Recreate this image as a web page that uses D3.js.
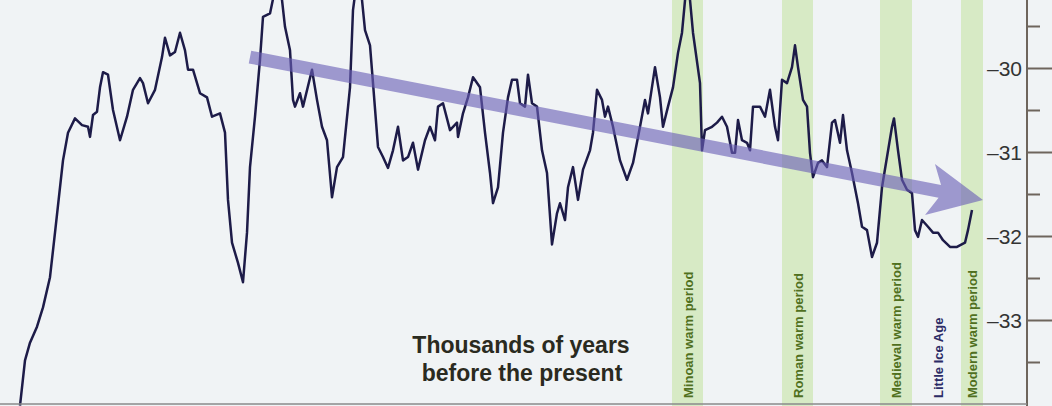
<!DOCTYPE html>
<html>
<head>
<meta charset="utf-8">
<script src="https://cdn.jsdelivr.net/npm/d3@7/dist/d3.min.js"></script>
<style>
  html, body { margin: 0; padding: 0; background: #eff2f4; }
  svg { display: block; }
</style>
</head>
<body>
<div id="chart"></div>
<script>
// thousands of years before present
var kyr = [9.75, 9.70, 9.65, 9.58, 9.52, 9.45, 9.40, 9.35, 9.32, 9.27, 9.20, 9.13, 9.07, 9.05, 9.02, 8.98,
    8.95, 8.92, 8.87, 8.82, 8.75, 8.68, 8.62, 8.55, 8.52, 8.47, 8.40, 8.33, 8.30, 8.25, 8.20, 8.15,
    8.10, 8.07, 8.02, 7.95, 7.88, 7.83, 7.75, 7.70, 7.67, 7.63, 7.57, 7.52, 7.48, 7.45, 7.40, 7.35,
    7.32, 7.25, 7.19, 7.13, 7.10, 7.05, 7.02, 7.00, 6.95, 6.92, 6.83, 6.78, 6.73, 6.68, 6.63, 6.58,
    6.52, 6.45, 6.42, 6.38, 6.33, 6.30, 6.25, 6.22, 6.17, 6.12, 6.07, 6.02, 5.97, 5.92, 5.87, 5.82,
    5.77, 5.70, 5.65, 5.60, 5.57, 5.52, 5.45, 5.38, 5.37, 5.32, 5.27, 5.22, 5.15, 5.10, 5.05, 5.02,
    4.97, 4.92, 4.87, 4.83, 4.78, 4.75, 4.70, 4.67, 4.63, 4.58, 4.53, 4.48, 4.43, 4.38, 4.35, 4.30,
    4.27, 4.22, 4.17, 4.12, 4.05, 4.02, 3.98, 3.93, 3.90, 3.87, 3.82, 3.75, 3.68, 3.62, 3.55, 3.50,
    3.47, 3.40, 3.35, 3.32, 3.27, 3.22, 3.17, 3.13, 3.09, 3.05, 3.02, 2.95, 2.93, 2.90, 2.83, 2.78,
    2.73, 2.68, 2.63, 2.60, 2.57, 2.53, 2.48, 2.45, 2.42, 2.35, 2.30, 2.25, 2.20, 2.17, 2.13, 2.08,
    2.03, 2.00, 1.97, 1.92, 1.88, 1.85, 1.82, 1.77, 1.73, 1.68, 1.63, 1.60, 1.55, 1.52, 1.48, 1.43,
    1.37, 1.33, 1.28, 1.23, 1.18, 1.13, 1.08, 1.03, 1.01, 0.97, 0.93, 0.88, 0.83, 0.80, 0.77, 0.73,
    0.67, 0.62, 0.57, 0.52, 0.45, 0.38, 0.30, 0.27, 0.23];

// temperature (deg C)
var temp = [-34.02, -33.48, -33.27, -33.08, -32.85, -32.49, -31.96, -31.42, -31.10, -30.77, -30.60, -30.68, -30.70, -30.82, -30.56, -30.52,
    -30.23, -30.05, -30.08, -30.50, -30.86, -30.58, -30.26, -30.12, -30.18, -30.42, -30.26, -29.87, -29.64, -29.85, -29.81, -29.58,
    -29.79, -30.02, -30.02, -30.30, -30.35, -30.58, -30.54, -30.77, -31.57, -32.08, -32.32, -32.55, -31.96, -31.18, -30.58, -29.90,
    -29.39, -29.35, -29.01, -29.19, -29.51, -29.79, -30.38, -30.46, -30.30, -30.46, -30.02, -30.38, -30.70, -30.86, -31.54, -31.18,
    -31.06, -30.23, -29.31, -28.95, -29.19, -29.55, -29.73, -30.18, -30.94, -31.06, -31.19, -30.98, -30.70, -31.10, -31.06, -30.89,
    -31.21, -30.86, -30.70, -30.86, -30.46, -30.42, -30.74, -30.65, -30.82, -30.54, -30.35, -30.11, -30.23, -30.77, -31.25, -31.61,
    -31.42, -30.77, -30.35, -30.14, -30.14, -30.42, -30.46, -30.08, -30.42, -30.46, -30.98, -31.25, -32.10, -31.73, -31.61, -31.81,
    -31.42, -31.18, -31.57, -31.21, -30.98, -30.77, -30.26, -30.38, -30.58, -30.46, -30.70, -31.10, -31.33, -31.13, -30.70, -30.38,
    -30.54, -29.99, -30.35, -30.70, -30.46, -30.23, -29.82, -29.58, -29.07, -29.19, -29.58, -30.18, -30.98, -30.74, -30.70, -30.65,
    -30.58, -30.70, -31.01, -31.01, -30.62, -30.86, -30.89, -30.98, -30.46, -30.46, -30.58, -30.26, -30.70, -30.86, -30.14, -30.18,
    -29.99, -29.73, -29.99, -30.38, -30.46, -31.01, -31.30, -31.13, -31.10, -31.18, -30.65, -30.62, -30.89, -30.56, -30.98, -31.25,
    -31.61, -31.89, -31.93, -32.25, -32.08, -31.42, -31.06, -30.70, -30.60, -30.98, -31.33, -31.45, -31.49, -31.93, -32.01, -31.81,
    -31.89, -31.96, -31.96, -32.05, -32.13, -32.13, -32.08, -31.93, -31.69];

// warm periods (kyr BP, start / end) and labels
var periodNames = ["Minoan warm period", "Roman warm period", "Medieval warm period", "Modern warm period"];
var periodStart = [3.23, 2.13, 1.15, 0.34];
var periodEnd = [2.92, 1.82, 0.83, 0.12];
var coldName = "Little Ice Age";
var coldAt = 0.57;

var majorTicks = [-30, -31, -32, -33];
var minorTicks = [-29.5, -30.5, -31.5, -32.5, -33.5];

// trend arrow, from / to (kyr, temp)
var trendFrom = [7.45, -29.87];
var trendTo = [0.12, -31.57];

var width = 1052, height = 406;

var svg = d3.select('#chart').append('svg')
    .attr('width', width)
    .attr('height', height);

svg.append('rect')
    .attr('width', width)
    .attr('height', height)
    .attr('fill', '#f0f3f5');

var x = d3.scaleLinear().domain([9.9, 0]).range([5, 995]);
var y = d3.scaleLinear().domain([-30, -33]).range([68, 320]);

// green bands
svg.append('g').selectAll('rect')
    .data(periodNames)
    .enter()
    .append('rect')
    .attr('x', function (d, i) { return x(periodStart[i]); })
    .attr('width', function (d, i) { return x(periodEnd[i]) - x(periodStart[i]); })
    .attr('y', 0)
    .attr('height', height)
    .attr('fill', '#d7eac5');

// band labels, rotated
var labelStyle = 'font-family: "Liberation Sans Narrow", "Liberation Sans", sans-serif; font-weight: bold; font-size: 13px;';

svg.append('g').selectAll('text')
    .data(periodNames)
    .enter()
    .append('text')
    .attr('transform', function (d, i) {
        var cx = (x(periodStart[i]) + x(periodEnd[i])) / 2 + 5;
        return 'translate(' + cx + ',398) rotate(-90)';
    })
    .attr('style', labelStyle + ' fill: #50701e;')
    .text(function (d) { return d; });

svg.append('text')
    .attr('transform', 'translate(' + (x(coldAt) + 5) + ',398) rotate(-90)')
    .attr('style', labelStyle + ' fill: #2c2b66;')
    .text(coldName);

// x label
var titleStyle = 'font-family: "Liberation Sans Narrow", "Liberation Sans", sans-serif; font-weight: bold; font-size: 23px; fill: #2a2a20;';

svg.append('text')
    .attr('x', 521)
    .attr('y', 353)
    .attr('text-anchor', 'middle')
    .attr('style', titleStyle)
    .text('Thousands of years');

svg.append('text')
    .attr('x', 522)
    .attr('y', 381)
    .attr('text-anchor', 'middle')
    .attr('style', titleStyle)
    .text('before the present');

// temperature line
var line = d3.line()
    .x(function (d) { return x(d[0]); })
    .y(function (d) { return y(d[1]); });

svg.append('path')
    .datum(d3.zip(kyr, temp))
    .attr('d', line)
    .attr('fill', 'none')
    .attr('stroke', '#1d1b48')
    .attr('stroke-width', 2.5)
    .attr('stroke-linejoin', 'round');

// trend arrow
var p0 = [x(trendFrom[0]), y(trendFrom[1])],
    p1 = [x(trendTo[0]), y(trendTo[1])];
var dx = p1[0] - p0[0], dy = p1[1] - p0[1], len = Math.sqrt(dx * dx + dy * dy);
var u = [dx / len, dy / len], n = [-u[1], u[0]];
function pt(base, a, b) {
    return [base[0] + u[0] * a + n[0] * b, base[1] + u[1] * a + n[1] * b];
}
var arrow = [
    pt(p0, 0, -6.5), pt(p1, -44, -6.5), pt(p1, -54, -26), p1,
    pt(p1, -54, 26), pt(p1, -44, 6.5), pt(p0, 0, 6.5)
];
svg.append('path')
    .attr('d', 'M' + arrow.map(function (p) { return p.join(','); }).join('L') + 'Z')
    .attr('fill', '#6a5fb6')
    .attr('fill-opacity', 0.62);

// right axis
var axisG = svg.append('g').attr('transform', 'translate(1027,0)');

axisG.append('line')
    .attr('x1', 0).attr('x2', 0)
    .attr('y1', 0).attr('y2', height)
    .attr('stroke', '#6e655c')
    .attr('stroke-width', 2);

axisG.append('g')
    .call(d3.axisRight(y).tickValues(minorTicks).tickSize(13).tickFormat(''))
    .call(function (g) { g.select('.domain').remove(); })
    .selectAll('line')
    .attr('stroke', '#6e655c')
    .attr('stroke-width', 2);

var major = axisG.append('g')
    .call(d3.axisRight(y).tickValues(majorTicks).tickSize(26).tickFormat(function (d) { return '\u2013' + Math.abs(d); }))
    .call(function (g) { g.select('.domain').remove(); });

major.selectAll('line')
    .attr('stroke', '#6e655c')
    .attr('stroke-width', 2);

major.selectAll('text')
    .attr('x', -5)
    .attr('dy', '0.35em')
    .attr('text-anchor', 'end')
    .attr('style', 'font-family: "Liberation Sans Narrow", "Liberation Sans", sans-serif; font-size: 21px; fill: #333333;');

// bottom rule
svg.append('line')
    .attr('x1', 0).attr('x2', 1027)
    .attr('y1', 404).attr('y2', 404)
    .attr('stroke', '#8a8a8a')
    .attr('stroke-width', 1.5);
</script>
</body>
</html>
